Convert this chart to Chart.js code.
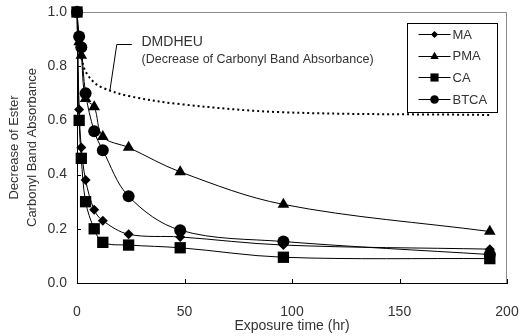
<!DOCTYPE html>
<html><head><meta charset="utf-8">
<script src="https://cdn.jsdelivr.net/npm/chart.js@4"></script>
<style>html,body{margin:0;padding:0;background:#fff}</style>
</head><body>
<canvas id="c" width="519" height="336"></canvas>
<script>
// ---- data ----
const times = [0, 1, 2, 4, 8, 12, 24, 48, 96, 192];
const maValues   = [1.0, 0.64, 0.50, 0.38, 0.27, 0.23, 0.18, 0.17, 0.14, 0.125];
const pmaValues  = [1.0, 0.89, 0.84, 0.68, 0.65, 0.54, 0.50, 0.41, 0.29, 0.19];
const caValues   = [1.0, 0.60, 0.46, 0.30, 0.20, 0.15, 0.14, 0.13, 0.095, 0.09];
const btcaValues = [1.0, 0.91, 0.87, 0.70, 0.56, 0.49, 0.32, 0.195, 0.153, 0.105];
const dmdheuTimes  = [2, 4, 8, 12, 24, 48, 96, 192];
const dmdheuValues = [0.83, 0.78, 0.74, 0.72, 0.69, 0.66, 0.63, 0.62];
const seriesLabels = ['MA', 'PMA', 'CA', 'BTCA'];
const seriesStyles = ['rectRot', 'triangle', 'rect', 'circle'];
const xTickValues = [0, 50, 100, 150, 200];
const yTickValues = [0.0, 0.2, 0.4, 0.6, 0.8, 1.0];
const xTitle = 'Exposure time (hr)';
const yTitle = ['Decrease of Ester', 'Carbonyl Band Absorbance'];
const noteTitle = 'DMDHEU';
const noteSub = '(Decrease of Carbonyl Band Absorbance)';

const FONT = '"Liberation Sans", Arial, sans-serif';
const TXT = '#333';

function pts(xs, ys) { return xs.map((x, i) => ({x: x, y: ys[i]})); }

const seriesValues = [maValues, pmaValues, caValues, btcaValues];
const pointRadii = [5, 6.7, 8, 6];

const datasets = seriesLabels.map((lab, i) => ({
  label: lab,
  data: pts(times, seriesValues[i]),
  showLine: true,
  borderColor: '#000',
  backgroundColor: '#000',
  borderWidth: 1,
  pointStyle: seriesStyles[i],
  pointRadius: pointRadii[i],
  pointBorderWidth: 0,
  pointBackgroundColor: '#000',
  tension: 0.35,
  clip: false
}));
datasets.push({
  label: 'DMDHEU',
  data: pts(dmdheuTimes, dmdheuValues),
  showLine: true,
  borderColor: '#000',
  borderWidth: 2,
  borderDash: [2, 3],
  pointRadius: 0,
  tension: 0.35,
  clip: false
});

const decor = {
  id: 'decor',
  beforeDatasetsDraw(chart) {
    const {ctx, chartArea: a, scales: {x, y}} = chart;
    ctx.save();
    ctx.strokeStyle = '#8a8a8a';
    ctx.lineWidth = 1;
    ctx.beginPath();
    ctx.moveTo(a.left, a.top + 0.5);
    ctx.lineTo(a.right - 0.5, a.top + 0.5);
    ctx.lineTo(a.right - 0.5, a.bottom);
    ctx.stroke();
    ctx.strokeStyle = '#000';
    ctx.beginPath();
    x.ticks.forEach(t => {
      const px = Math.round(x.getPixelForValue(t.value)) + 0.5;
      ctx.moveTo(px, a.bottom);
      ctx.lineTo(px, a.bottom - 4);
    });
    y.ticks.forEach(t => {
      const py = Math.round(y.getPixelForValue(t.value)) + 0.5;
      ctx.moveTo(a.left, py);
      ctx.lineTo(a.left + 4, py);
    });
    ctx.stroke();
    ctx.restore();
  },
  afterDraw(chart) {
    const {ctx, chartArea: a, scales: {x, y}} = chart;
    ctx.save();
    ctx.fillStyle = TXT;
    ctx.textBaseline = 'middle';
    ctx.textAlign = 'left';
    ctx.font = '14px ' + FONT;
    ctx.fillText(noteTitle, x.getPixelForValue(30), y.getPixelForValue(0.89));
    ctx.font = '12.5px ' + FONT;
    ctx.fillText(noteSub, x.getPixelForValue(30), y.getPixelForValue(0.825));
    ctx.strokeStyle = '#000';
    ctx.lineWidth = 1;
    ctx.beginPath();
    ctx.moveTo(x.getPixelForValue(25.5), Math.round(y.getPixelForValue(0.882)) + 0.5);
    ctx.lineTo(x.getPixelForValue(18.5), Math.round(y.getPixelForValue(0.882)) + 0.5);
    ctx.lineTo(x.getPixelForValue(15.3), y.getPixelForValue(0.71));
    ctx.stroke();

    const L = Math.round(a.right - 100) + 0.5, T = Math.round(a.top + 11) + 0.5;
    const W = 90, H = 89;
    ctx.fillStyle = '#fff';
    ctx.fillRect(L, T, W, H);
    ctx.strokeStyle = '#000';
    ctx.strokeRect(L, T, W, H);
    ctx.font = '13px ' + FONT;
    ctx.textBaseline = 'middle';
    chart.data.datasets.slice(0, 4).forEach((ds, i) => {
      const cy = T + 10.5 + i * 21.7;
      const x0 = L + 11, x1 = L + 43;
      ctx.strokeStyle = '#000';
      ctx.lineWidth = 1;
      ctx.beginPath();
      ctx.moveTo(x0, Math.round(cy) + 0.5);
      ctx.lineTo(x1, Math.round(cy) + 0.5);
      ctx.stroke();
      ctx.fillStyle = '#000';
      Chart.helpers.drawPoint(ctx, {pointStyle: ds.pointStyle, radius: ds.pointRadius * 0.72, borderWidth: 0, rotation: 0}, (x0 + x1) / 2, Math.round(cy) + 0.5);
      ctx.fillStyle = TXT;
      ctx.fillText(ds.label, x1 + 2, cy + 1);
    });
    ctx.restore();
  }
};

new Chart(document.getElementById('c'), {
  type: 'scatter',
  data: {datasets: datasets},
  options: {
    responsive: false,
    animation: false,
    devicePixelRatio: 1,
    layout: {padding: {left: 0, top: 12, right: 12, bottom: 0}},
    plugins: {legend: {display: false}, tooltip: {enabled: false}},
    scales: {
      x: {
        type: 'linear', min: 0, max: 200,
        afterBuildTicks: s => { s.ticks = xTickValues.map(v => ({value: v})); },
        afterFit: s => { s.height = 53; s.paddingLeft = 0; s.paddingRight = 0; },
        grid: {display: true, drawOnChartArea: false, drawTicks: false},
        border: {color: '#000', width: 1},
        ticks: {color: TXT, font: {family: FONT, size: 14}, padding: 21, maxRotation: 0,
                callback: v => String(v)},
        title: {display: true, text: xTitle, color: TXT, font: {family: FONT, size: 14}, padding: {top: 0, bottom: 1}}
      },
      y: {
        type: 'linear', min: 0, max: 1,
        afterBuildTicks: s => { s.ticks = yTickValues.map(v => ({value: v})); },
        afterFit: s => { s.width = 77; s.paddingTop = 0; s.paddingBottom = 0; },
        grid: {display: true, drawOnChartArea: false, drawTicks: false},
        border: {color: '#000', width: 1},
        ticks: {color: TXT, font: {family: FONT, size: 14}, padding: 10,
                callback: v => Number(v).toFixed(1)},
        title: {display: true, text: yTitle, color: TXT, font: {family: FONT, size: 13, lineHeight: 1.35}, padding: {top: 6, bottom: 0}}
      }
    }
  },
  plugins: [decor]
});
</script>
</body></html>
